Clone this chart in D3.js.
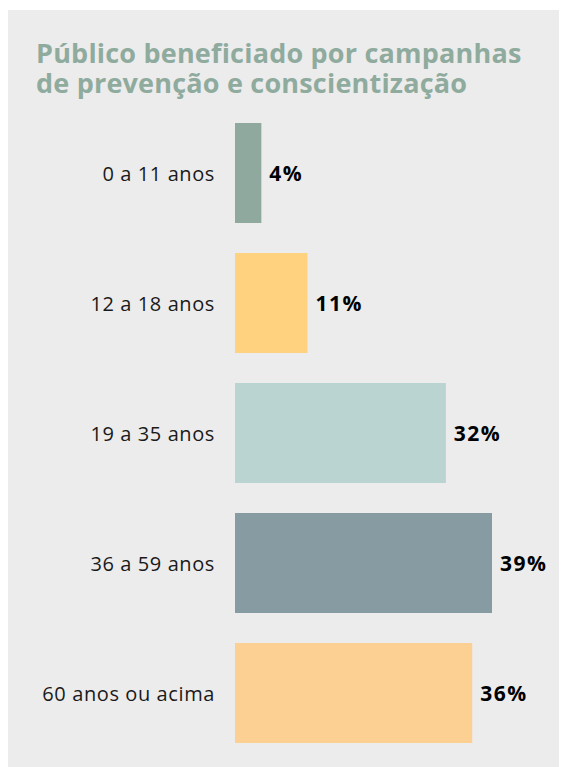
<!DOCTYPE html>
<html><head><meta charset="utf-8">
<script src="https://cdn.jsdelivr.net/npm/d3@7"></script>
<style>
html,body{margin:0;padding:0;background:#fff;}
svg{display:block;}
</style></head>
<body>
<svg id="chart" width="563" height="767"></svg>
<script>
const titleLines = ["Público beneficiado por campanhas", "de prevenção e conscientização"];
const categories = ["0 a 11 anos", "12 a 18 anos", "19 a 35 anos", "36 a 59 anos", "60 anos ou acima"];
const values = [4, 11, 32, 39, 36];
const colors = ["#8fa99e", "#fed27e", "#b9d4d1", "#879ba3", "#fcd092"];

const svg = d3.select("#chart");
svg.append("rect").attr("x", 8).attr("y", 10).attr("width", 551).attr("height", 757).attr("fill", "#ececec");

svg.append("g").selectAll("text").data(titleLines).join("text")
  .attr("x", 36).attr("y", (d, i) => 63 + i * 30)
  .attr("fill", "#8fab9e")
  .attr("font-family", "'Open Sans', sans-serif")
  .attr("font-weight", 700)
  .attr("font-size", 27)
  .attr("letter-spacing", 0.2)
  .text(d => d);

const y = d3.scaleBand().domain(categories).range([108, 758]).paddingInner(30 / 130).paddingOuter(15 / 130);
const x = d3.scaleLinear().domain([0, 39]).range([235, 492]);

const data = categories.map((c, i) => ({cat: c, val: values[i], color: colors[i]}));

svg.append("g").selectAll("rect").data(data).join("rect")
  .attr("x", x(0)).attr("y", d => y(d.cat))
  .attr("width", d => x(d.val) - x(0)).attr("height", y.bandwidth())
  .attr("fill", d => d.color);

const yAxis = d3.axisLeft(y).tickSize(0).tickPadding(0);
const ag = svg.append("g").attr("transform", "translate(215,0)").call(yAxis);
ag.select(".domain").remove();
ag.selectAll("text")
  .attr("font-family", "'Open Sans', sans-serif")
  .attr("font-size", 20)
  .attr("letter-spacing", 0.6)
  .attr("fill", "#1a1a1a")
  .attr("dy", "0.4em");

svg.append("g").selectAll("text").data(data).join("text")
  .attr("x", d => x(d.val) + 8)
  .attr("y", d => y(d.cat) + y.bandwidth() / 2)
  .attr("dy", "0.4em")
  .attr("font-family", "'Open Sans', sans-serif")
  .attr("font-weight", 700)
  .attr("font-size", 21)
  .attr("letter-spacing", 1.5)
  .attr("fill", "#000")
  .text(d => d.val + "%");
</script>
</body></html>
